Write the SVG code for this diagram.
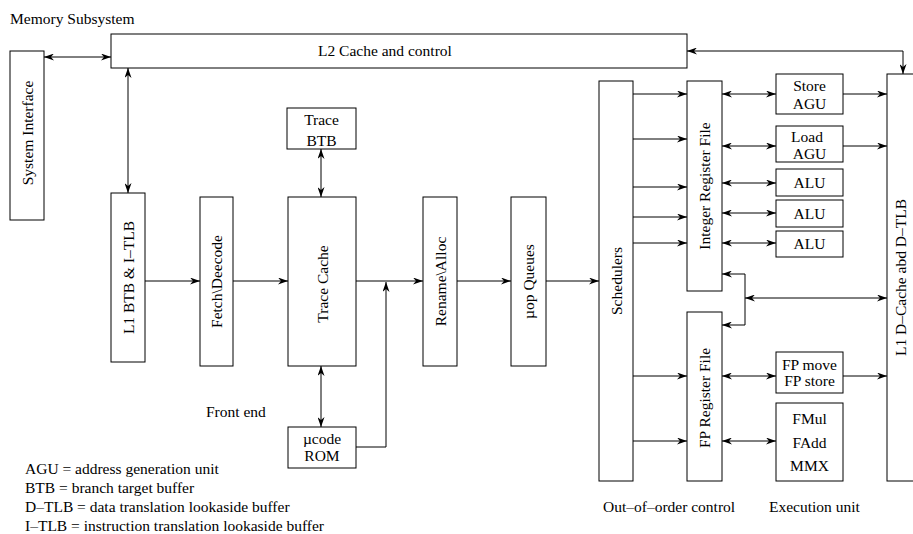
<svg xmlns="http://www.w3.org/2000/svg" width="913" height="534" viewBox="0 0 913 534">
<defs>
<marker id="ah" markerWidth="11" markerHeight="7" refX="10" refY="3.5" orient="auto-start-reverse" markerUnits="userSpaceOnUse">
<path d="M0,0 L10,3.5 L0,7 L3,3.5 z" fill="#000"/>
</marker>
</defs>
<style>
rect{fill:#fff;stroke:#000;stroke-width:1}
text{font-family:"Liberation Serif","Times New Roman",serif;font-size:15.5px;fill:#000}
.c{text-anchor:middle}
#connectors line,#connectors polyline{stroke:#000;stroke-width:1;fill:none}
.e{marker-end:url(#ah)}
.d{marker-start:url(#ah);marker-end:url(#ah)}
</style>
<rect x="0" y="0" width="913" height="534" style="stroke:none"/>
<text x="10" y="24">Memory Subsystem</text>
<g id="l2"><rect x="111" y="34" width="576" height="34"/><text x="318" y="56">L2 Cache and control</text></g>
<g id="sysif"><rect x="10" y="51" width="34" height="169"/><text class="c" transform="translate(32.5,133) rotate(-90)">System Interface</text></g>
<g id="l1btb"><rect x="111" y="193" width="34" height="169"/><text class="c" transform="translate(133.5,277.5) rotate(-90)">L1 BTB &amp; I–TLB</text></g>
<g id="fetch"><rect x="200" y="197" width="33" height="169"/><text class="c" transform="translate(222,281.5) rotate(-90)">Fetch\Deecode</text></g>
<g id="tracebtb"><rect x="287" y="108" width="69" height="41"/><text class="c" x="321.5" y="125">Trace</text><text class="c" x="321.5" y="146">BTB</text></g>
<g id="tracecache"><rect x="288" y="197" width="68" height="169"/><text class="c" transform="translate(327.5,284) rotate(-90)">Trace Cache</text></g>
<g id="ucode"><rect x="288" y="427" width="68" height="41"/><text class="c" x="322" y="444">µcode</text><text class="c" x="322" y="461">ROM</text></g>
<g id="rename"><rect x="423" y="197" width="34" height="169"/><text class="c" transform="translate(445.5,281.5) rotate(-90)">Rename\Alloc</text></g>
<g id="uop"><rect x="511" y="197" width="35" height="169"/><text class="c" transform="translate(534,281.5) rotate(-90)">µop Queues</text></g>
<g id="sched"><rect x="599" y="81" width="34" height="400"/><text class="c" transform="translate(621.5,281) rotate(-90)">Schedulers</text></g>
<g id="irf"><rect x="687" y="81" width="35" height="210"/><text class="c" transform="translate(710,186) rotate(-90)">Integer Register File</text></g>
<g id="fprf"><rect x="687" y="312" width="35" height="169"/><text class="c" transform="translate(710,398) rotate(-90)">FP Register File</text></g>
<g id="storeagu"><rect x="776" y="74" width="67" height="40"/><text class="c" x="809.5" y="91">Store</text><text class="c" x="809.5" y="109">AGU</text></g>
<g id="loadagu"><rect x="776" y="126" width="67" height="36"/><text class="c" x="807" y="142">Load</text><text class="c" x="809.5" y="159">AGU</text></g>
<g id="alu1"><rect x="776" y="169" width="67" height="27"/><text class="c" x="809.5" y="188">ALU</text></g>
<g id="alu2"><rect x="776" y="200" width="67" height="27"/><text class="c" x="809.5" y="219">ALU</text></g>
<g id="alu3"><rect x="776" y="231" width="67" height="26"/><text class="c" x="809.5" y="249">ALU</text></g>
<g id="fpmove"><rect x="776" y="352" width="67" height="41"/><text class="c" x="809.5" y="370">FP move</text><text class="c" x="809.5" y="386">FP store</text></g>
<g id="fmul"><rect x="776" y="403" width="67" height="78"/><text class="c" x="809.5" y="424">FMul</text><text class="c" x="809.5" y="448">FAdd</text><text class="c" x="809.5" y="471">MMX</text></g>
<g id="l1d"><rect x="887" y="74" width="40" height="407"/><text class="c" transform="translate(906,277.5) rotate(-90)">L1 D–Cache abd D–TLB</text></g>
<g id="connectors">
<line class="d" x1="44" y1="57" x2="111" y2="57"/>
<line class="d" x1="128" y1="68" x2="128" y2="193"/>
<line class="e" x1="145" y1="281" x2="200" y2="281"/>
<line class="e" x1="233" y1="281" x2="288" y2="281"/>
<line class="d" x1="321" y1="149" x2="321" y2="197"/>
<line class="e" x1="356" y1="281" x2="423" y2="281"/>
<line class="d" x1="321" y1="366" x2="321" y2="427"/>
<polyline class="e" points="356,447 386,447 386,282"/>
<line class="e" x1="457" y1="281" x2="511" y2="281"/>
<line class="e" x1="546" y1="281" x2="599" y2="281"/>
<line class="e" x1="633" y1="94" x2="687" y2="94"/>
<line class="e" x1="633" y1="139" x2="687" y2="139"/>
<line class="e" x1="633" y1="187" x2="687" y2="187"/>
<line class="e" x1="633" y1="217" x2="687" y2="217"/>
<line class="e" x1="633" y1="243" x2="687" y2="243"/>
<line class="e" x1="633" y1="376" x2="687" y2="376"/>
<line class="e" x1="633" y1="441" x2="687" y2="441"/>
<line class="d" x1="722" y1="94" x2="776" y2="94"/>
<line class="d" x1="722" y1="146" x2="776" y2="146"/>
<line class="d" x1="722" y1="183" x2="776" y2="183"/>
<line class="d" x1="722" y1="213" x2="776" y2="213"/>
<line class="d" x1="722" y1="243" x2="776" y2="243"/>
<line class="d" x1="722" y1="376" x2="776" y2="376"/>
<line class="d" x1="722" y1="441" x2="776" y2="441"/>
<line class="e" x1="843" y1="94" x2="887" y2="94"/>
<line class="e" x1="843" y1="146" x2="887" y2="146"/>
<line class="e" x1="843" y1="376" x2="887" y2="376"/>
<polyline class="d" points="687,51 903,51 903,74"/>
<line class="d" x1="745" y1="298" x2="887" y2="298"/>
<polyline class="d" points="722,274 745,274 745,325 722,325"/>
</g>
<text x="206" y="417">Front end</text>
<text x="25" y="474">AGU = address generation unit</text>
<text x="25" y="493">BTB = branch target buffer</text>
<text x="25" y="512">D–TLB = data translation lookaside buffer</text>
<text x="25" y="531">I–TLB = instruction translation lookaside buffer</text>
<text x="603" y="512">Out–of–order control</text>
<text x="769" y="512">Execution unit</text>
</svg>
